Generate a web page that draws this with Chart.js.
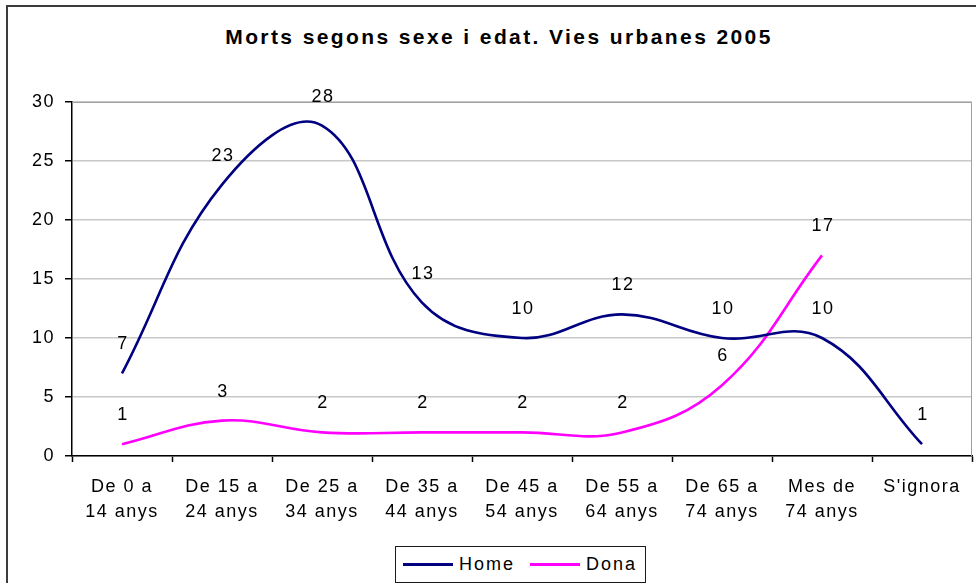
<!DOCTYPE html>
<html>
<head>
<meta charset="utf-8">
<title>Morts segons sexe i edat</title>
<script src="https://cdn.jsdelivr.net/npm/chart.js@4/dist/chart.umd.min.js"></script>
<style>
    html, body { margin: 0; padding: 0; background: #fff; }
    #wrap { position: relative; width: 976px; height: 583px; overflow: hidden; background: #fff; }
    #frame { position: absolute; left: 6px; top: 5px; width: 1000px; height: 620px; border: 2px solid #3c3c3c; box-sizing: border-box; }
    #chartCanvas { position: absolute; left: 0; top: 0; }
    #title {
        position: absolute; left: 0; top: 26px; width: 998px; text-align: center;
        font: bold 21px "Liberation Sans", Arial, sans-serif; line-height: 21px;
        letter-spacing: 2.4px; color: #000;
    }
    #legend {
        position: absolute; left: 395px; top: 546px; width: 251px; height: 37px;
        border: 1.5px solid #1a1a1a; box-sizing: border-box; background: #fff;
        font: 18px "Liberation Sans", Arial, sans-serif; letter-spacing: 2px; color: #000;
    }
    #legend .item { position: absolute; top: 0; height: 34px; display: flex; align-items: center; }
    #legend .swatch { display: inline-block; width: 50px; height: 3px; margin-right: 6px; }
</style>
</head>
<body>
<div id="wrap">
    <div id="frame"></div>
    <div id="title">Morts segons sexe i edat. Vies urbanes 2005</div>
    <canvas id="chartCanvas" width="976" height="583"></canvas>
    <div id="legend"></div>
</div>
<script>
// ===== DATA =====
const ageGroups = [
    ['De 0 a', '14 anys'],
    ['De 15 a', '24 anys'],
    ['De 25 a', '34 anys'],
    ['De 35 a', '44 anys'],
    ['De 45 a', '54 anys'],
    ['De 55 a', '64 anys'],
    ['De 65 a', '74 anys'],
    ['Mes de', '74 anys'],
    ["S'ignora"]
];
const homeDeaths = [7, 23, 28, 13, 10, 12, 10, 10, 1];
const donaDeaths = [1, 3, 2, 2, 2, 2, 6, 17, null];
const yTicks = [0, 5, 10, 15, 20, 25, 30];

const seriesNames = ['Home', 'Dona'];
const seriesColors = ['#000080', '#ff00ff'];

const FONT = '"Liberation Sans", Arial, sans-serif';
const SPACING = '1.5px';

// canvas text gets the same wide spacing as the html text
const spacingPlugin = {
    id: 'spacing',
    beforeUpdate(chart) { chart.ctx.letterSpacing = SPACING; },
    beforeDraw(chart) { chart.ctx.letterSpacing = SPACING; }
};

// grey frame round the plot area
const plotFramePlugin = {
    id: 'plotFrame',
    beforeDatasetsDraw(chart) {
        const { ctx, chartArea: a } = chart;
        ctx.save();
        ctx.strokeStyle = '#a0a0a0';
        ctx.lineWidth = 1;
        ctx.beginPath();
        ctx.moveTo(a.left, a.top + 0.5);
        ctx.lineTo(a.right - 0.5, a.top + 0.5);
        ctx.lineTo(a.right - 0.5, a.bottom);
        ctx.stroke();
        ctx.restore();
    }
};

// value labels above each point
const valueLabelPlugin = {
    id: 'valueLabels',
    afterDatasetsDraw(chart) {
        const ctx = chart.ctx;
        ctx.save();
        ctx.letterSpacing = SPACING;
        ctx.font = '18px ' + FONT;
        ctx.fillStyle = '#000';
        ctx.textAlign = 'center';
        ctx.textBaseline = 'middle';
        chart.data.datasets.forEach((ds, i) => {
            chart.getDatasetMeta(i).data.forEach((pt, j) => {
                const v = ds.data[j];
                if (v === null || v === undefined) return;
                ctx.fillText(String(v), pt.x + 1, pt.y - 29);
            });
        });
        ctx.restore();
    }
};

const ctx = document.getElementById('chartCanvas');

new Chart(ctx, {
    type: 'line',
    data: {
        labels: ageGroups,
        datasets: [
            {
                label: seriesNames[0],
                data: homeDeaths,
                borderColor: seriesColors[0],
                borderWidth: 2.6,
                tension: 0.4,
                pointRadius: 0,
                fill: false
            },
            {
                label: seriesNames[1],
                data: donaDeaths,
                borderColor: seriesColors[1],
                borderWidth: 2.6,
                tension: 0.4,
                pointRadius: 0,
                fill: false
            }
        ]
    },
    options: {
        responsive: false,
        animation: false,
        layout: { padding: { top: 102, right: 4, left: 0, bottom: 0 } },
        plugins: {
            legend: { display: false },
            title: { display: false },
            tooltip: { enabled: false }
        },
        scales: {
            x: {
                offset: true,
                grid: {
                    offset: true,
                    drawOnChartArea: false,
                    tickLength: 6,
                    tickColor: '#000',
                    tickWidth: 1.5
                },
                border: { color: '#000', width: 1.5 },
                ticks: {
                    autoSkip: false,
                    maxRotation: 0,
                    color: '#000',
                    padding: 12,
                    font: { family: FONT, size: 18, lineHeight: 1.4 }
                },
                afterFit(scale) { scale.height = 127; }
            },
            y: {
                min: 0,
                max: 30,
                afterBuildTicks(scale) {
                    scale.ticks = yTicks.map(v => ({ value: v }));
                },
                grid: {
                    color: '#c8c8c8',
                    lineWidth: 1.5,
                    tickLength: 7,
                    tickColor: '#000',
                    tickWidth: 1.5
                },
                border: { color: '#000', width: 1.5 },
                ticks: {
                    color: '#000',
                    padding: 10,
                    font: { family: FONT, size: 18 }
                },
                afterFit(scale) { scale.width = 72; }
            }
        }
    },
    plugins: [spacingPlugin, plotFramePlugin, valueLabelPlugin]
});

// ===== LEGEND =====
const legendEl = document.getElementById('legend');
const legendX = [7, 134];
seriesNames.forEach((name, i) => {
    const item = document.createElement('div');
    item.className = 'item';
    item.style.left = legendX[i] + 'px';
    item.innerHTML = '<span class="swatch" style="background:' + seriesColors[i] + '"></span>' + name;
    legendEl.appendChild(item);
});
</script>
</body>
</html>
